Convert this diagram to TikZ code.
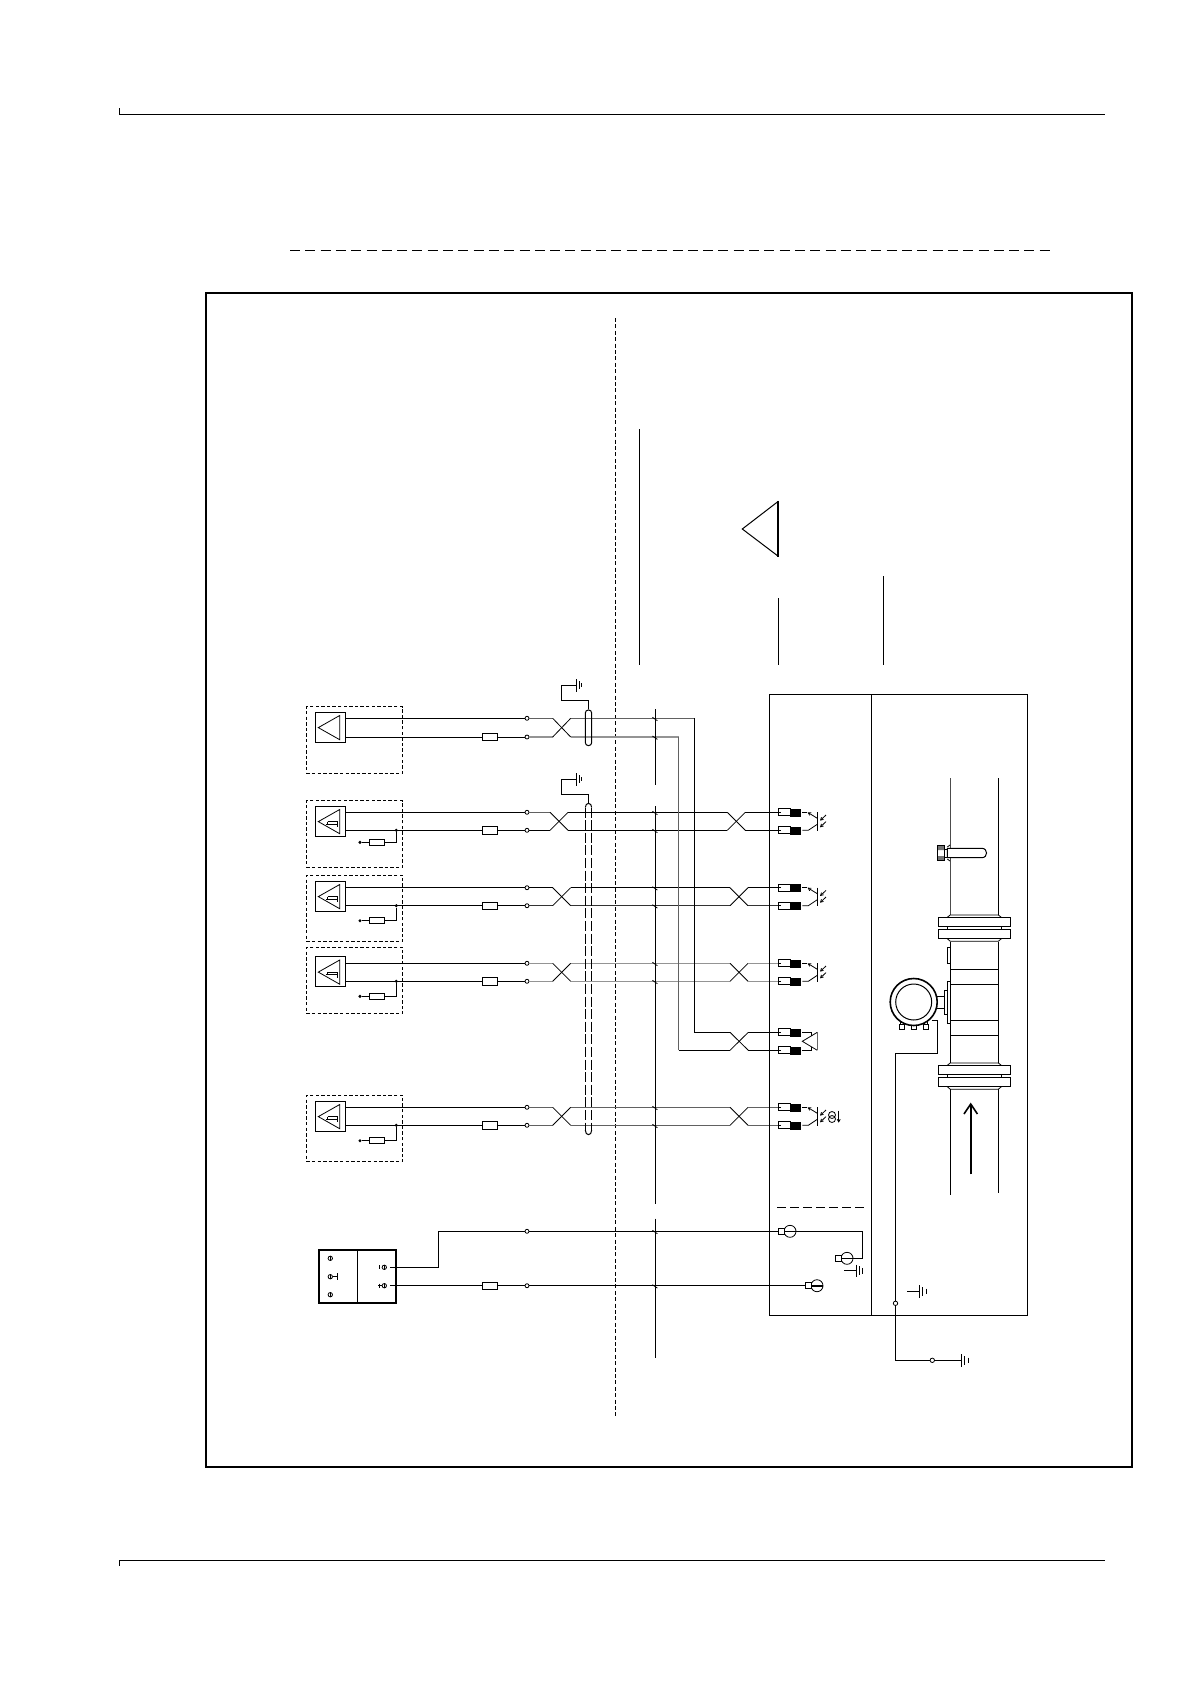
\documentclass[tikz,border=0pt]{standalone}
\usetikzlibrary{arrows.meta}
\tikzset{
 wire/.style={line width=1pt,black},
 thinw/.style={line width=0.8pt,black},
 heavyw/.style={line width=2pt,black},
 gwa/.style={line width=1.2pt,black!62},
 gwb/.style={line width=1.3pt,black!42},
 termc/.style={circle,draw=black,fill=white,line width=0.8pt,inner sep=0pt,minimum size=4pt},
 fusebox/.style={rectangle,draw=black,fill=white,line width=0.8pt,inner sep=0pt,minimum width=15.4pt,minimum height=7.4pt},
 dotj/.style={circle,fill=black,inner sep=0pt,minimum size=3.4pt},
 dbox/.style={rectangle,draw=black,dash pattern=on 3.4pt off 2.2pt,line width=0.8pt,inner sep=0pt,minimum width=96.4pt,minimum height=66.2pt},
 sqbox/.style={rectangle,draw=black,line width=1pt,fill=white,inner sep=0pt,minimum width=30.4pt,minimum height=30pt},
 conw/.style={rectangle,draw=black,fill=white,line width=0.8pt,inner sep=0pt,minimum width=12pt,minimum height=7pt},
 conb/.style={rectangle,draw=black,fill=black,inner sep=0pt,minimum width=9.7pt,minimum height=7pt},
 consq/.style={rectangle,draw=black,fill=white,line width=0.8pt,inner sep=0pt,minimum size=6.2pt},
 lbarb/.style={-{Straight Barb[length=2.6pt,width=3pt]},line width=0.8pt},
}
% sensor box: name, top of square, top of dashed box
\newcommand\sqsensor[3]{%
 \node[dbox] (#1box) at (354.5,#3+33.1) {};
 \node[sqbox] (#1sq) at (330.5,#2+15) {};
 \draw[thinw] (318.3,#2+15.3) -- (339.7,#2+3.2) -- (339.7,#2+27.4) -- cycle;
}
% Schmitt glyph and load resistor: name, top of square, y of lower wire, y of resistor
\newcommand\schmitt[4]{%
 \draw[wire] (327.7,#2+15.3) -- (337,#2+15.3) -- (337,#2+20.7);
 \draw[wire] (327.7,#2+15.3) -- (327.7,#2+18);
 \draw[wire] (325.8,#2+18) -- (337,#2+18);
 \node[dotj] (#1dj) at (396.3,#3) {};
 \node[dotj] (#1dl) at (360,#4) {};
 \node[fusebox,minimum height=6pt] (#1rs) at (377,#4) {};
 \draw[wire] (#1dj) |- (#1rs);
 \draw[wire] (#1rs) -- (#1dl);
}
% name, y1, y2, cross start, cross end, colA, colB
\newcommand\wpair[7]{%
 \coordinate (#1sa) at (345.7,#2);
 \coordinate (#1sb) at (345.7,#3);
 \node[termc] (#1ta) at (527,#2) {};
 \node[termc] (#1tb) at (527,#3) {};
 \node[fusebox] (#1fu) at (490,#3) {};
 \draw[wire] (#1sa) -- (#1ta);
 \draw[wire] (#1sb) -- (#1fu);
 \draw[wire] (#1fu) -- (#1tb);
 \coordinate (#1xa) at (#4,#2);
 \coordinate (#1xb) at (#4,#3);
 \coordinate (#1ya) at (#5,#2);
 \coordinate (#1yb) at (#5,#3);
 \draw[#6] (#1ta) -- (#1xa);
 \draw[#7] (#1tb) -- (#1xb);
 \draw[thinw] (#1xa) -- (#1yb);
 \draw[thinw] (#1xb) -- (#1ya);
}
% connectors: name,y1,y2
\newcommand\twocon[3]{%
 \node[conw] (#1ca) at (784.3,#2) {};
 \node[conb] (#1cA) at (795.2,#2) {};
 \node[conw] (#1cb) at (784.3,#3) {};
 \node[conb] (#1cB) at (795.2,#3) {};
 \draw[thinw] (#1ca.west) -- ++(3.4,0);
 \draw[thinw] (#1cb.west) -- ++(3.4,0);
}
% continuation: name,y1,y2,right cross start,colA,colB
\newcommand\wright[6]{%
 \twocon{#1}{#2}{#3}
 \coordinate (#1ua) at (#4,#2);
 \coordinate (#1ub) at (#4,#3);
 \coordinate (#1va) at (#4+18,#2);
 \coordinate (#1vb) at (#4+18,#3);
 \draw[#5] (#1ya) -- (#1ua);
 \draw[#6] (#1yb) -- (#1ub);
 \draw[thinw] (#1ua) -- (#1vb);
 \draw[thinw] (#1ub) -- (#1va);
 \draw[#5] (#1va) -- (#1ca.west);
 \draw[#6] (#1vb) -- (#1cb.west);
}
\newcommand\tickm[1]{\draw[thinw] (652.4,#1-1) -- (657.4,#1+2.4);}
\newcommand\optoc[1]{%
 \draw[thinw] (802.3,#1) -- (806.5,#1);
 \draw[lbarb] (817.3,#1+6) -- (807.6,#1);
 \draw[thinw] (802.3,#1+18) -- (808.3,#1+18) -- (817.3,#1+12);
 \draw[wire] (817.3,#1) -- (817.3,#1+18.7);
 \draw[lbarb] (826,#1+2.7) -- (820,#1+8.3);
 \draw[lbarb] (826,#1+9.3) -- (820,#1+15);
}
\newcommand\earthsym[2]{%
 \draw[wire] (#1,#2-6.2) -- (#1,#2+6.2);
 \draw[wire] (#1+3.3,#2-4.3) -- (#1+3.3,#2+4.3);
 \draw[wire] (#1+6.7,#2-2.8) -- (#1+6.7,#2+2.8);
}
\newcommand\earthtight[2]{%
 \draw[line width=1.2pt] (#1,#2-6.2) -- (#1,#2+6.2);
 \draw[line width=1.2pt] (#1+2.7,#2-4) -- (#1+2.7,#2+4);
 \draw[wire] (#1+5,#2-2) -- (#1+5,#2+2);
}
\newcommand\roundc[4]{% name, square x centre, y, circle x
 \node[circle,draw=black,fill=white,line width=0.8pt,inner sep=0pt,minimum size=12pt] (#1ci) at (#4,#3) {};
 \draw[line width=1.6pt] (#1ci.west) -- (#1ci.east);
 \node[consq] (#1sq) at (#2,#3) {};
}
\newcommand\screwt[3]{%
 \node[circle,draw=black,line width=0.8pt,inner sep=0pt,minimum size=4.4pt] (#1) at (#2,#3) {};
 \draw[thinw] (#1.north) -- (#1.south);
}
\newcommand\flangepair[1]{%
 \draw[wire] (938.3,#1) rectangle (1010.7,#1+9.4);
 \draw[wire] (938.3,#1+12) rectangle (1010.7,#1+21.4);
 \draw[thinw] (947.3,#1+9.4) -- (947.3,#1+12) (1001.7,#1+9.4) -- (1001.7,#1+12);
 \draw[thinw] (947.3,#1) -- (950.3,#1-2.4) -- (998.3,#1-2.4) -- (1001.3,#1);
 \draw[thinw] (947.3,#1+21.4) -- (950.3,#1+24) -- (998.3,#1+24) -- (1001.3,#1+21.4);
}
\begin{document}
\begin{tikzpicture}[x=1pt,y=-1pt]
\useasboundingbox (0,0) rectangle (1190,1684);
\fill[white] (0,0) rectangle (1190,1684);
% header and footer rules
\coordinate (hl) at (119.3,114.3); \coordinate (hr) at (1104.6,114.3);
\draw[wire] (119.3,108) -- (hl) -- (hr);
\coordinate (fl) at (119.3,1560.2); \coordinate (fr) at (1104.6,1560.2);
\draw[wire] (119.3,1565.5) -- (fl) -- (fr);
\coordinate (dh1) at (290,250.2); \coordinate (dh2) at (1049.8,250.2);
\draw[line width=1.1pt,dash pattern=on 10pt off 5.3pt] (dh1) -- (dh2);
% frame
\draw[heavyw] (206,293.2) rectangle (1132,1466.7);
% zone separator
\coordinate (zs1) at (615.3,318); \coordinate (zs2) at (615.3,1416);
\draw[line width=0.9pt,dash pattern=on 4pt off 2.4pt] (zs1) -- (zs2);
% leader lines and triangle
\draw[wire] (639.3,429) -- (639.3,665);
\draw[wire] (778.3,598) -- (778.3,665);
\draw[wire] (883.3,576) -- (883.3,665);
\draw[wire,line join=miter] (778.3,501.3) -- (742.3,529) -- (778.3,556.3);
\draw[line width=2pt] (778.3,500.8) -- (778.3,556.8);
% sensor group 1
\sqsensor{gA}{712.3}{706.7}
\wpair{gA}{718.3}{737}{552.7}{570.7}{gwa}{gwb}
% sensor groups with Schmitt glyph
\sqsensor{gB}{806.3}{800.7}\schmitt{gB}{806.3}{830.3}{842.3}
\wpair{gB}{812.3}{830.3}{550}{568}{gwa}{wire}
\wright{gB}{812.3}{830.3}{727.3}{wire}{wire}
\optoc{812.3}
\sqsensor{gC}{881.3}{875.3}\schmitt{gC}{881.3}{905.7}{920.7}
\wpair{gC}{887.7}{905.7}{552.7}{570.7}{wire}{wire,black!80}
\wright{gC}{887.7}{905.7}{730}{wire}{wire,black!80}
\optoc{887.7}
\sqsensor{gD}{956.8}{947.3}\schmitt{gD}{956.8}{981.3}{996.3}
\wpair{gD}{963.3}{981.3}{552.7}{570.7}{gwb}{gwb}
\wright{gD}{963.3}{981.3}{730}{gwb}{gwb}
\optoc{963.3}
\sqsensor{gE}{1101.3}{1095.3}\schmitt{gE}{1101.3}{1125.3}{1140.7}
\wpair{gE}{1107.3}{1125.3}{552.7}{570.7}{gwa}{gwa}
\wright{gE}{1107.3}{1125.3}{730}{gwa}{gwa}
\optoc{1107.3}
% loop-powered symbol of channel E
\draw[thinw] (832,1115) circle[radius=3.5];
\draw[thinw] (832,1119) circle[radius=3.5];
\draw[lbarb] (838.7,1110.7) -- (838.7,1122.7);
% group A to far end
\twocon{gA}{1032.3}{1050.3}
\coordinate (rA1) at (694.3,718.3);
\coordinate (rA2) at (678.7,737);
\coordinate (rA3) at (694.3,1032.3);
\coordinate (rA4) at (678.7,1050.3);
\coordinate (rA5) at (730,1032.3);
\coordinate (rA6) at (730,1050.3);
\coordinate (rA7) at (748.3,1032.3);
\coordinate (rA8) at (748.3,1050.3);
\draw[gwa] (gAya) -- (rA1);
\draw[gwb] (gAyb) -- (rA2);
\draw[wire] (rA1) -- (rA3) -- (rA5);
\draw[gwa] (rA2) -- (rA4);
\draw[wire] (rA4) -- (rA6);
\draw[thinw] (rA5) -- (rA8) (rA6) -- (rA7);
\draw[wire] (rA7) -- (gAca.west);
\draw[wire] (rA8) -- (gAcb.west);
% amplifier symbol
\draw[thinw] (802.3,1032.3) -- (811.7,1032.3) -- (811.7,1036);
\draw[thinw] (802.3,1050.3) -- (811.7,1050.3) -- (811.7,1046.6);
\draw[thinw] (817.3,1032.3) -- (802.3,1041.3) -- (817.3,1050.3);
\draw[wire,black!60] (817.3,1032.3) -- (817.3,1050.3);
% bus line
\coordinate (bs1) at (655.7,709.3); \coordinate (bs2) at (655.7,785);
\coordinate (bs3) at (655.7,806); \coordinate (bs4) at (655.7,1204);
\coordinate (bs5) at (655.7,1218.7); \coordinate (bs6) at (655.7,1357.7);
\draw[wire] (bs1) -- (bs2) (bs3) -- (bs4) (bs5) -- (bs6);
\tickm{718.3}\tickm{737}\tickm{812.3}\tickm{830.3}\tickm{887.7}\tickm{905.7}\tickm{963.3}\tickm{981.3}\tickm{1107.3}\tickm{1125.3}\tickm{1231.3}\tickm{1285.7}
% shields and their earths
\node[rectangle,rounded corners=3.1pt,draw=black,line width=1pt,inner sep=0pt,minimum width=6.4pt,minimum height=35.7pt] (shA) at (588.5,727.8) {};
\coordinate (eA1) at (561.7,700.7); \coordinate (eA2) at (576.7,685.3);
\draw[wire] (shA.north) |- (eA1) |- (eA2);
\earthtight{576.7}{685.3}
\coordinate (shBt) at (588.5,802.7);
\coordinate (eB1) at (561.7,794.3); \coordinate (eB2) at (576.7,779.3);
\draw[wire] (shBt) |- (eB1) |- (eB2);
\earthtight{576.7}{779.3}
\draw[wire] (585.3,807.5) .. controls (585.3,802) and (591.7,802) .. (591.7,807.5);
\draw[wire] (585.3,1130) .. controls (585.3,1136.2) and (591.7,1136.2) .. (591.7,1130);
\draw[wire,dash pattern=on 10pt off 2.6pt] (585.3,807.5) -- (585.3,1130);
\draw[wire,dash pattern=on 10pt off 2.6pt] (591.7,807.5) -- (591.7,1130);
% receiver frame
\draw[wire] (769.3,694.3) rectangle (1027.5,1315.3);
\coordinate (dv1) at (871.5,694.3); \coordinate (dv2) at (871.5,1315.3);
\draw[wire] (dv1) -- (dv2);
\coordinate (dp1) at (777.3,1207.3); \coordinate (dp2) at (866,1207.3);
\draw[line width=0.9pt,dash pattern=on 9pt off 4pt] (dp1) -- (dp2);
% power supply
\draw[heavyw] (319,1249.7) rectangle (396.3,1303.3);
\coordinate (psd1) at (357.3,1249.7); \coordinate (psd2) at (357.3,1303.3);
\draw[wire] (psd1) -- (psd2);
\screwt{pl1}{330.3}{1258.3}\screwt{pl2}{330.3}{1276.7}\screwt{pl3}{330.3}{1294.7}
\screwt{pr1}{384.3}{1267.3}\screwt{pr2}{384.3}{1285.7}
\draw[thinw] (pl2.east) -- (337.3,1276.7);
\draw[wire] (337.3,1273.4) -- (337.3,1280);
\draw[thinw] (379.3,1265.3) -- (379.3,1269.3);
\draw[thinw] (379.3,1283.7) -- (379.3,1287.7) (378,1285.7) -- (pr2.west);
% power wires
\node[termc] (tp1) at (527,1231.3) {};
\node[termc] (tp2) at (527,1285.7) {};
\node[fusebox] (fp2) at (490,1285.7) {};
\coordinate (wp1) at (390,1267.3);
\coordinate (wp2) at (390,1285.7);
\coordinate (wp3) at (438.3,1267.3);
\coordinate (wp4) at (438.3,1231.3);
\draw[wire] (wp1) -- (wp3) -- (wp4) -- (tp1);
\draw[wire] (wp2) -- (fp2);
\draw[wire] (fp2) -- (tp2);
\coordinate (wp5) at (862.7,1231.3);
\coordinate (wp6) at (862.7,1258.3);
\draw[wire] (tp1) -- (wp5) -- (wp6) -- (850,1258.3);
\draw[wire] (tp2) -- (808,1285.7);
\roundc{rc1}{781.3}{1231.3}{790}
\roundc{rc2}{838.3}{1258.3}{847}
\roundc{rc3}{808.3}{1285.7}{817}
\earthsym{856}{1270.7}
\coordinate (es1) at (844,1270.7);
\draw[wire] (es1) -- (856,1270.7);
\earthsym{919.3}{1291.3}
\coordinate (es2) at (907,1291.3);
\draw[wire] (es2) -- (919.3,1291.3);
% earth lead from transmitter
\node[termc,minimum size=4.4pt] (ej1) at (895.5,1303.3) {};
\node[termc,minimum size=4.4pt] (ej2) at (932.3,1360.3) {};
\coordinate (el1) at (931.7,1020.3); \coordinate (el2) at (937.3,1020.3);
\coordinate (el3) at (937.3,1053.3); \coordinate (el4) at (895.5,1053.3);
\coordinate (el5) at (895.5,1360.3); \coordinate (el6) at (961.3,1360.3);
\draw[wire] (el1) -- (el2) -- (el3) -- (el4) -- (ej1) -- (el5) -- (ej2) -- (el6);
\earthsym{961.3}{1360.3}
% pipe
\draw[wire,black!70] (950,778.3) -- (950,915);
\draw[wire] (998.7,778.3) -- (998.7,915);
\flangepair{917.3}
\flangepair{1065.3}
\draw[wire] (950.7,941.7) -- (950.7,1062.9);
\draw[wire] (998.7,941.7) -- (998.7,1062.9);
\foreach \yy in {969.3,984.7,1020.3,1035.3} \draw[wire] (950.7,\yy) -- (998.7,\yy);
\draw[wire] (950.3,1089.3) -- (950.3,1195);
\draw[wire] (998.5,1089.3) -- (998.5,1192.7);
% flow arrow
\coordinate (fa1) at (970.7,1174.3); \coordinate (fa2) at (970.7,1104.5);
\draw[line width=2pt] (fa1) -- (fa2);
\draw[line width=1.6pt,miter limit=10] (964,1114) -- (970.7,1104) -- (977.4,1114);
% temperature sensor
\fill[black!55] (937.7,845.3) rectangle (944.7,850) (937.7,856) rectangle (944.7,860.7);
\draw[wire] (937.7,845.3) rectangle (944.7,860.7);
\draw[thinw] (944.7,849) -- (947.3,849) (944.7,857) -- (947.3,857);
\draw[wire,fill=white] (981.7,848.3) -- (947.3,848.3) -- (947.3,857.7) -- (981.7,857.7) .. controls (988.2,857.7) and (988.2,848.3) .. (981.7,848.3) -- cycle;
\draw[thinw] (947.3,847) -- (950,845) (947.3,859) -- (950,861);
% transmitter mounting
\draw[wire] (947.3,947.3) rectangle (950.7,963.3);
\draw[wire] (947.3,981.3) rectangle (950.7,1023.3);
\draw[wire] (944,990.3) rectangle (947.3,1014.3);
\draw[wire] (936.7,996.3) -- (944,996.3) (936.7,1008.3) -- (944,1008.3);
% glands
\foreach \gx in {899.3,911,923} {
 \draw[thinw,fill=white] (\gx+1,1021) rectangle (\gx+4.4,1024);
 \draw[wire,fill=white] (\gx,1024) rectangle (\gx+5.3,1029.7);
}
% transmitter head
\node[circle,draw=black,fill=white,line width=1.6pt,inner sep=0pt,minimum size=47pt] (tx) at (913.7,1002) {};
\node[circle,draw=black,line width=1pt,inner sep=0pt,minimum size=36pt] (txi) at (913.7,1002) {};
\end{tikzpicture}
\end{document}
